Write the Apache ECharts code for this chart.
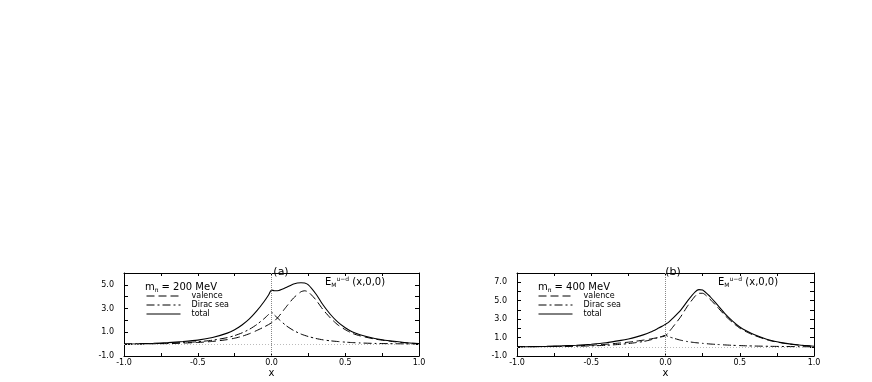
<!DOCTYPE html>
<html><head><meta charset="utf-8">
<script src="https://cdn.jsdelivr.net/npm/echarts@6/dist/echarts.min.js"></script>
<style>html,body{margin:0;padding:0;background:#fff}#c{width:872px;height:382px}</style>
</head><body><div id="c"></div>
<script>
// x grid shared by all curves
const xs = [-1,-0.9,-0.8,-0.7,-0.6,-0.5,-0.4,-0.3,-0.25,-0.2,-0.15,-0.1,-0.05,-0.02,0,0.02,0.05,0.1,0.15,0.2,0.225,0.25,0.3,0.35,0.4,0.45,0.5,0.55,0.6,0.7,0.8,0.9,1.0];
// panel (a): m_pi = 200 MeV
const valenceA = [0,0.01,0.03,0.05,0.09,0.14,0.23,0.38,0.5,0.66,0.88,1.15,1.45,1.65,1.8,1.95,2.35,3.15,3.9,4.42,4.5,4.4,3.75,2.9,2.2,1.62,1.22,0.9,0.7,0.43,0.25,0.12,0.04];
const diracA   = [0,0.02,0.04,0.08,0.13,0.2,0.33,0.55,0.72,0.95,1.25,1.65,2.15,2.5,2.7,2.45,2.1,1.55,1.15,0.85,0.74,0.64,0.48,0.36,0.28,0.22,0.17,0.13,0.1,0.06,0.04,0.02,0];
const totalA   = [0,0.03,0.07,0.13,0.22,0.34,0.56,0.93,1.22,1.62,2.13,2.8,3.6,4.15,4.56,4.5,4.52,4.78,5.08,5.18,5.15,5.0,4.25,3.3,2.5,1.85,1.38,1.02,0.8,0.48,0.28,0.14,0.05];
// panel (b): m_pi = 400 MeV
const valenceB = [0,0.01,0.03,0.06,0.1,0.17,0.27,0.42,0.5,0.6,0.72,0.85,1.0,1.1,1.2,1.55,2.15,3.2,4.45,5.5,5.8,5.8,5.15,4.3,3.4,2.65,2.02,1.58,1.22,0.68,0.37,0.18,0.06];
const diracB   = [0,0.01,0.02,0.04,0.06,0.1,0.16,0.27,0.35,0.45,0.57,0.75,1.0,1.15,1.25,1.1,0.95,0.72,0.56,0.45,0.41,0.37,0.3,0.25,0.2,0.16,0.13,0.1,0.08,0.05,0.03,0.01,0];
const totalB   = [0,0.02,0.05,0.1,0.16,0.27,0.43,0.69,0.85,1.05,1.29,1.6,2.0,2.25,2.45,2.65,3.1,3.92,5.0,5.95,6.2,6.17,5.45,4.55,3.6,2.81,2.15,1.68,1.3,0.73,0.4,0.19,0.06];
const seriesNames = ['valence','Dirac sea','total'];
const panelLabels = ['(a)','(b)'];
const massTexts = ['200 MeV','400 MeV'];

const FONT = 'DejaVu Sans';
const pts = arr => xs.map((x,i)=>[x,arr[i]]);
const xFmt = v => Math.abs(v*2-Math.round(v*2))<1e-6 ? v.toFixed(1) : '';
const yFmt = v => (Math.round(v)%2!==0) ? v.toFixed(1) : '';

const grids = [
  {left:124, top:273, width:295, height:83},
  {left:517, top:273, width:297, height:83}
];
const ymax = [6,8];
const xAxis=[], yAxis=[];
grids.forEach((g,gi)=>{
  xAxis.push({gridIndex:gi,type:'value',min:-1,max:1,interval:0.25,position:'bottom',
    name:'x',nameLocation:'middle',nameGap:12,nameTextStyle:{fontFamily:FONT,fontSize:10,color:'#000'},
    axisLine:{show:true,onZero:false,lineStyle:{color:'#000',width:1}},
    axisTick:{show:true,inside:true,length:3,lineStyle:{color:'#000'}},
    axisLabel:{formatter:xFmt,fontFamily:FONT,fontSize:8,color:'#000',margin:3,showMinLabel:true,showMaxLabel:true},
    splitLine:{show:false}});
  xAxis.push({gridIndex:gi,type:'value',min:-1,max:1,interval:0.25,position:'top',
    axisLine:{show:true,onZero:false,lineStyle:{color:'#000',width:1}},
    axisTick:{show:true,inside:true,length:3,lineStyle:{color:'#000'}},
    axisLabel:{show:false},splitLine:{show:false}});
  yAxis.push({gridIndex:gi,type:'value',min:-1,max:ymax[gi],interval:1,position:'left',
    axisLine:{show:true,onZero:false,lineStyle:{color:'#000',width:1}},
    axisTick:{show:true,inside:true,length:4,lineStyle:{color:'#000'}},
    axisLabel:{formatter:yFmt,fontFamily:FONT,fontSize:8,color:'#000',margin:10},
    splitLine:{show:false}});
  yAxis.push({gridIndex:gi,type:'value',min:-1,max:ymax[gi],interval:1,position:'right',
    axisLine:{show:true,onZero:false,lineStyle:{color:'#000',width:1}},
    axisTick:{show:true,inside:true,length:4,lineStyle:{color:'#000'}},
    axisLabel:{show:false},splitLine:{show:false}});
});

const styles = [
  {type:[8,4],width:1},
  {type:[8,3,2,3],width:1},
  {type:'solid',width:1.1}
];
const data = [[valenceA,diracA,totalA],[valenceB,diracB,totalB]];
const series=[];
data.forEach((set,pi)=>{
  set.forEach((arr,si)=>{
    const s = {name:seriesNames[si],type:'line',xAxisIndex:pi*2,yAxisIndex:pi*2,
      data:pts(arr),showSymbol:false,symbol:'none',smooth:0.2,
      lineStyle:{color:'#000',width:styles[si].width,type:styles[si].type},
      itemStyle:{color:'#000'},z:3,silent:true};
    if(si===2){
      s.markLine={silent:true,symbol:'none',label:{show:false},
        data:[{xAxis:0,lineStyle:{color:'#888',type:[1,1],width:1}},
              {yAxis:0,lineStyle:{color:'#bbb',type:[1,2],width:1}}]};
    }
    series.push(s);
  });
});

const rich = {
  n:{fontFamily:FONT,fontSize:10,fontWeight:'normal',color:'#000'},
  sub:{fontFamily:FONT,fontSize:6,fontWeight:'normal',color:'#000',verticalAlign:'bottom',padding:[6,0,0,0]},
  sup:{fontFamily:FONT,fontSize:6,fontWeight:'normal',color:'#000',padding:[0,0,6,0]}
};
const titles=[];
panelLabels.forEach((t,i)=>{
  titles.push({text:t,left:[276,668][i],top:262,textAlign:'center',
    textStyle:{fontFamily:FONT,fontSize:11,fontWeight:'normal',color:'#000'}});
  titles.push({text:'{n|m}{sub|π}{n| = '+massTexts[i]+'}',left:[140,533][i],top:276,
    textStyle:{fontWeight:'normal',rich:rich}});
  titles.push({text:'{n|E}{sub|M}{sup|u−d}{n| (x,0,0)}',left:[320,713][i],top:271,
    textStyle:{fontWeight:'normal',rich:rich}});
});

const legends = [0,1].map(i=>({
  data:seriesNames, orient:'vertical', left:[141,533][i], top:287,
  itemWidth:34, itemHeight:6, itemGap:1, selectedMode:false,
  itemStyle:{opacity:0}, lineStyle:{width:1},
  textStyle:{fontFamily:FONT,fontSize:8,color:'#000',padding:[0,0,0,6]}
}));

const chart = echarts.init(document.getElementById('c'),null,{renderer:'canvas'});
chart.setOption({
  backgroundColor:'#fff',animation:false,
  title:titles, legend:legends, grid:grids, xAxis:xAxis, yAxis:yAxis, series:series
});
</script></body></html>
